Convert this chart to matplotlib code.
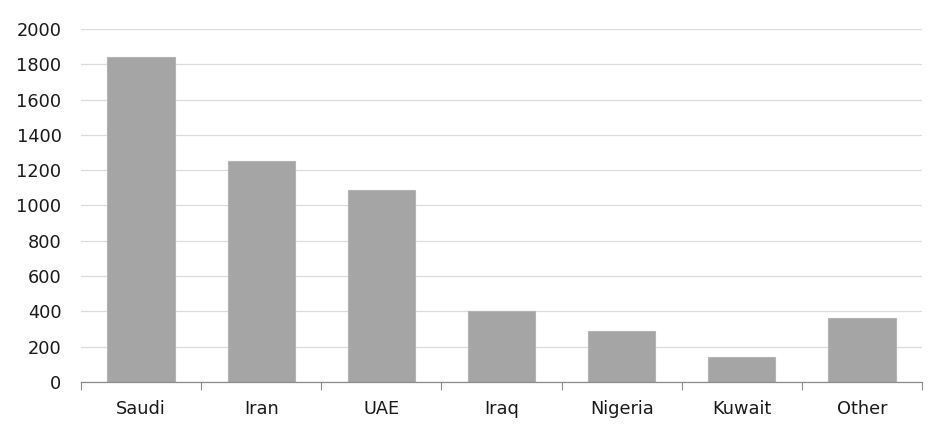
import numpy as np
import matplotlib.pyplot as plt
from matplotlib.ticker import FixedLocator

# Datos
countries = ['Saudi', 'Iran', 'UAE', 'Iraq', 'Nigeria', 'Kuwait', 'Other']
values = [1840, 1250, 1085, 400, 290, 140, 362]
yticks = [0, 200, 400, 600, 800, 1000, 1200, 1400, 1600, 1800, 2000]

plt.rcParams['font.family'] = ['DejaVu Sans']

fig = plt.figure(figsize=(9.52, 4.38), dpi=100)
ax = fig.add_axes([0.0851, 0.1279, 0.8834, 0.806])

x = np.arange(len(countries))
ax.bar(x, values, width=0.56, color='#a5a5a5', edgecolor='#b4b4b4',
       linewidth=0.8, zorder=3)

# Ejes y rejilla
ax.set_xlim(-0.5, len(countries) - 0.5)
ax.set_ylim(0, 2000)
ax.set_yticks(yticks)
ax.set_xticks(x)
ax.set_xticklabels(countries)
ax.xaxis.set_minor_locator(FixedLocator(np.arange(-0.5, len(countries), 1.0)))
ax.tick_params(axis='x', which='major', length=0, pad=13, labelsize=12.8,
               colors='#1a1a1a')
ax.tick_params(axis='x', which='minor', length=6, width=0.8, color='#8c8c8c')
ax.tick_params(axis='y', length=0, pad=14, labelsize=12.8, colors='#1a1a1a')
ax.grid(axis='y', color='#dcdcdc', linewidth=0.9, zorder=0)

for s in ['top', 'right', 'left']:
    ax.spines[s].set_visible(False)
ax.spines['bottom'].set_color('#8c8c8c')
ax.spines['bottom'].set_linewidth(0.9)
ax.spines['bottom'].set_zorder(4)

fig.savefig('out.png', dpi=100)
